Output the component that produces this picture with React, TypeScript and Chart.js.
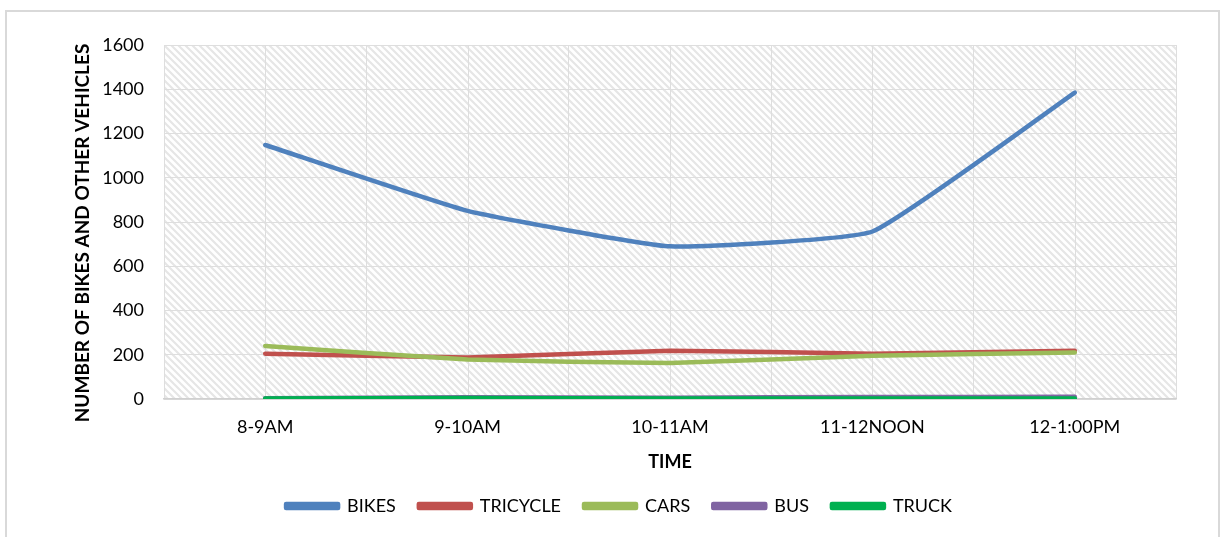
import { useEffect, useRef } from "react";
import { Chart, registerables } from "chart.js";

Chart.register(...registerables);

const categories = ["8-9AM", "9-10AM", "10-11AM", "11-12NOON", "12-1:00PM"];
const bikes = [1148, 850, 690, 757, 1385];
const tricycle = [205, 188, 218, 205, 218];
const cars = [240, 178, 163, 195, 210];
const bus = [3, 8, 6, 9, 10];
const truck = [2, 5, 2, 2, 2];
const seriesNames = ["BIKES", "TRICYCLE", "CARS", "BUS", "TRUCK"];
const seriesColors = ["#4f81bd", "#c0504d", "#9bbb59", "#8064a2", "#00b050"];
const yMin = 0;
const yMax = 1600;
const yStep = 200;
const xTitle = "TIME";
const yTitle = "NUMBER OF BIKES AND OTHER VEHICLES";

const FONT = "Lato, 'Liberation Sans', sans-serif";
const GRID = "#dedede";

function makePattern(): CanvasPattern | string {
  const c = document.createElement("canvas");
  const s = 7;
  c.width = s;
  c.height = s;
  const g = c.getContext("2d");
  if (!g) return "#fff";
  g.fillStyle = "#ffffff";
  g.fillRect(0, 0, s, s);
  g.strokeStyle = "#e6e6e6";
  g.lineWidth = 2.2;
  g.beginPath();
  g.moveTo(-1, -1);
  g.lineTo(s + 1, s + 1);
  g.moveTo(-1, s - 1);
  g.lineTo(1, s + 1);
  g.moveTo(s - 1, -1);
  g.lineTo(s + 1, 1);
  g.stroke();
  const p = g.createPattern(c, "repeat");
  return p || "#fff";
}

export default function App() {
  const ref = useRef<HTMLCanvasElement>(null);

  useEffect(() => {
    document.body.style.margin = "0";
    const canvas = ref.current;
    if (!canvas) return;
    const pattern = makePattern();

    const bgPlugin = {
      id: "bgPlugin",
      beforeDraw(chart: any) {
        const { ctx, chartArea } = chart;
        ctx.save();
        ctx.fillStyle = "#ffffff";
        ctx.fillRect(0, 0, chart.width, chart.height);
        ctx.fillStyle = pattern;
        ctx.fillRect(chartArea.left, chartArea.top, chartArea.right - chartArea.left, chartArea.bottom - chartArea.top);
        ctx.strokeStyle = "#d9d9d9";
        ctx.lineWidth = 2;
        ctx.strokeRect(6, 11, 1213, 600);
        ctx.restore();
      },
      beforeDatasetsDraw(chart: any) {
        const { ctx, chartArea } = chart;
        const xs = chart.scales.x;
        ctx.save();
        ctx.strokeStyle = GRID;
        ctx.lineWidth = 1;
        categories.forEach((_, i) => {
          const x = Math.round(xs.getPixelForValue(i)) + 0.5;
          ctx.beginPath();
          ctx.moveTo(x, chartArea.top);
          ctx.lineTo(x, chartArea.bottom);
          ctx.stroke();
        });
        ctx.restore();
      },
      afterDraw(chart: any) {
        const { ctx } = chart;
        ctx.save();
        ctx.translate(83, 233);
        ctx.rotate(-Math.PI / 2);
        ctx.fillStyle = "#000";
        ctx.font = `bold 19px ${FONT}`;
        ctx.textAlign = "center";
        ctx.textBaseline = "middle";
        ctx.fillText(yTitle, 0, 0);
        ctx.restore();
      },
    };

    const series = [bikes, tricycle, cars, bus, truck];
    const chart = new Chart(canvas, {
      type: "line",
      data: {
        labels: categories,
        datasets: series.map((d, i) => ({
          label: seriesNames[i],
          data: d,
          borderColor: seriesColors[i],
          backgroundColor: seriesColors[i],
          borderWidth: 4.5,
          pointRadius: 0,
          tension: 0.12,
          borderCapStyle: "round" as const,
          borderJoinStyle: "round" as const,
          order: series.length - i,
        })),
      },
      options: {
        responsive: false,
        animation: false,
        layout: { padding: { left: 62, right: 45, top: 45, bottom: 12 } },
        plugins: {
          tooltip: { enabled: false },
          legend: {
            position: "bottom",
            labels: {
              boxWidth: 52,
              boxHeight: 4,
              padding: 23,
              color: "#000",
              font: { family: FONT, size: 18 },
              sort: (a: any, b: any) => a.datasetIndex - b.datasetIndex,
            },
          },
        },
        scales: {
          x: {
            type: "category",
            offset: true,
            afterFit(scale: any) {
              scale.height = 75;
            },
            grid: { offset: true, color: GRID, lineWidth: 1, drawTicks: false },
            border: { color: "#d0d0d0", width: 1.5 },
            ticks: { color: "#000", padding: 17, font: { family: FONT, size: 18 } },
            title: {
              display: true,
              text: xTitle,
              color: "#000",
              font: { family: FONT, size: 18, weight: "bold" },
              padding: { top: 0, bottom: 1 },
            },
          },
          y: {
            min: yMin,
            max: yMax,
            afterFit(scale: any) {
              scale.width = 102;
            },
            grid: { color: GRID, lineWidth: 1, drawTicks: false },
            border: { display: false },
            ticks: {
              stepSize: yStep,
              color: "#000",
              padding: 20,
              font: { family: FONT, size: 18 },
              callback: (v: any) => String(v),
            },
            title: { display: false },
          },
        },
      },
      plugins: [bgPlugin],
    });
    return () => chart.destroy();
  }, []);

  return (
    <div style={{ width: 1221, height: 537 }}>
      <canvas ref={ref} width={1221} height={537} style={{ display: "block" }} />
    </div>
  );
}
